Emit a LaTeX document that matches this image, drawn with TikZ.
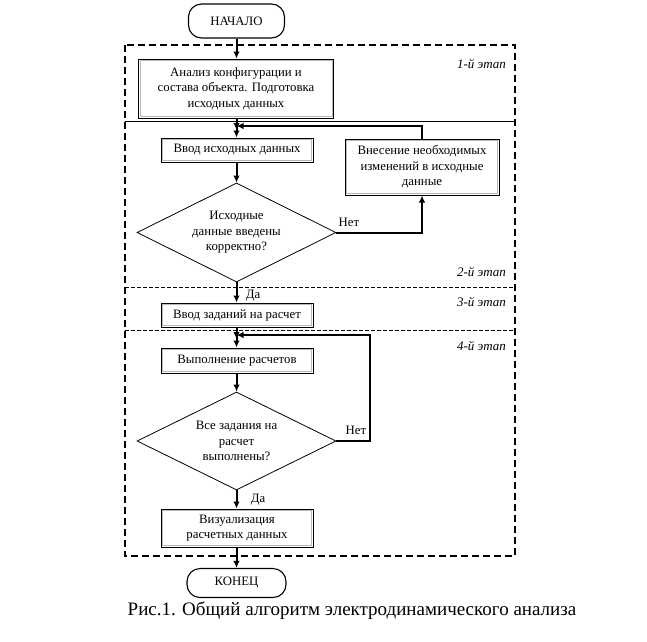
\documentclass[tikz,border=0pt]{standalone}
\usepackage{fontspec}
\setmainfont{Liberation Serif}
\usetikzlibrary{arrows.meta,shapes.geometric,calc}
\begin{document}
\begin{tikzpicture}[x=1pt,y=1pt,
  txt/.style={font=\fontsize{12.8}{15.5}\selectfont, align=center},
  procbox/.style={txt, draw=black, line width=1pt, fill=white, inner sep=0pt,
    path picture={\draw[gray!55,line width=1pt]
      ([shift={(1.5pt,-1.5pt)}]path picture bounding box.north west) rectangle
      ([shift={(-1.5pt,1.5pt)}]path picture bounding box.south east);}},
  term/.style={txt, draw=black, line width=1.1pt, rounded corners=13pt, inner sep=0pt},
  decision/.style={txt, diamond, draw=black, line width=0.8pt, inner sep=0pt, shape aspect=2},
  conn/.style={line width=2pt, -{Latex[length=7pt,width=6.5pt]}},
  lbl/.style={font=\fontsize{12.8}{15}\selectfont, inner sep=0pt},
  stage/.style={font=\fontsize{13}{15}\selectfont\itshape, anchor=east, inner sep=0pt},
  frame/.style={line width=1.4pt, dash pattern=on 7pt off 4pt},
  divdash/.style={line width=1pt, dash pattern=on 4pt off 2pt}
]
\useasboundingbox (0,0) rectangle (647,-641);

% stage frames
\draw[frame] (125,-45) rectangle (515,-556);
\draw[line width=0.9pt] (125,-121) -- (515,-121);
\draw[divdash] (125,-287) -- (515,-287);
\draw[divdash] (125,-330) -- (515,-330);
\node[stage] (s1) at (506,-64) {1-й этап};
\node[stage] (s2) at (506,-272) {2-й этап};
\node[stage] (s3) at (506,-302) {3-й этап};
\node[stage] (s4) at (506,-346) {4-й этап};

% nodes
\node[term, minimum width=96pt, minimum height=34pt] (start) at (236.5,-21) {НАЧАЛО};
\node[procbox, minimum width=195pt, minimum height=59pt] (b1) at (236,-88.5)
  {Анализ конфигурации и\\состава объекта. Подготовка\\исходных данных};
\node[procbox, minimum width=152pt, minimum height=24pt] (b2) at (237,-150) {Ввод исходных данных};
\node[procbox, minimum width=154pt, minimum height=56pt] (b3) at (422,-167)
  {Внесение необходимых\\изменений в исходные\\данные};
\node[decision, minimum width=199pt, minimum height=99pt] (d1) at (236.5,-232.5)
  {Исходные\\данные введены\\корректно?};
\node[procbox, minimum width=152pt, minimum height=24pt] (b4) at (237,-315) {Ввод заданий на расчет};
\node[procbox, minimum width=152pt, minimum height=25pt] (b5) at (237,-360.5) {Выполнение расчетов};
\node[decision, minimum width=199pt, minimum height=98pt] (d2) at (236.5,-441)
  {Все задания на\\расчет\\выполнены?};
\node[procbox, minimum width=152pt, minimum height=38pt] (b6) at (237,-528)
  {Визуализация\\расчетных данных};
\node[term, minimum width=99pt, minimum height=29pt] (end) at (236.5,-583) {КОНЕЦ};
\node[font=\fontsize{19}{22}\selectfont, inner sep=0pt] (cap) at (352,-611)
  {Рис.1. Общий алгоритм электродинамического анализа};

% junctions
\coordinate (j1) at (236.5,-126);
\coordinate (j2) at (236.5,-335);
\coordinate (c1) at (422,-232.5);
\coordinate (c2) at (422,-126);
\coordinate (c3) at (370,-441);
\coordinate (c4) at (370,-335);

% connectors
\draw[conn] (start.south) -- (b1.north -| start.south);
\draw[conn] (b1.south -| j1) -- ($(j1)+(0,-4)$);
\draw[conn] (j1) -- (b2.north -| j1);
\draw[conn] (b2.south -| j1) -- (d1.north);
\draw[conn] (d1.east) -- (c1) -- (b3.south);
\draw[conn] (b3.north) -- (c2) -- (j1);
\draw[conn] (d1.south) -- (b4.north -| d1.south);
\draw[conn] (b4.south -| j2) -- ($(j2)+(0,-4)$);
\draw[conn] (j2) -- (b5.north -| j2);
\draw[conn] (b5.south -| j2) -- (d2.north);
\draw[conn] (d2.east) -- (c3) -- (c4) -- (j2);
\draw[conn] (d2.south) -- (b6.north -| d2.south);
\draw[conn] (b6.south -| d2.south) -- (end.north);

% labels
\node[lbl] (no1) at (349,-222) {Нет};
\node[lbl] (no2) at (356,-430) {Нет};
\node[lbl] (yes1) at (253,-296) {Да};
\node[lbl] (yes2) at (258,-500) {Да};
\end{tikzpicture}
\end{document}
